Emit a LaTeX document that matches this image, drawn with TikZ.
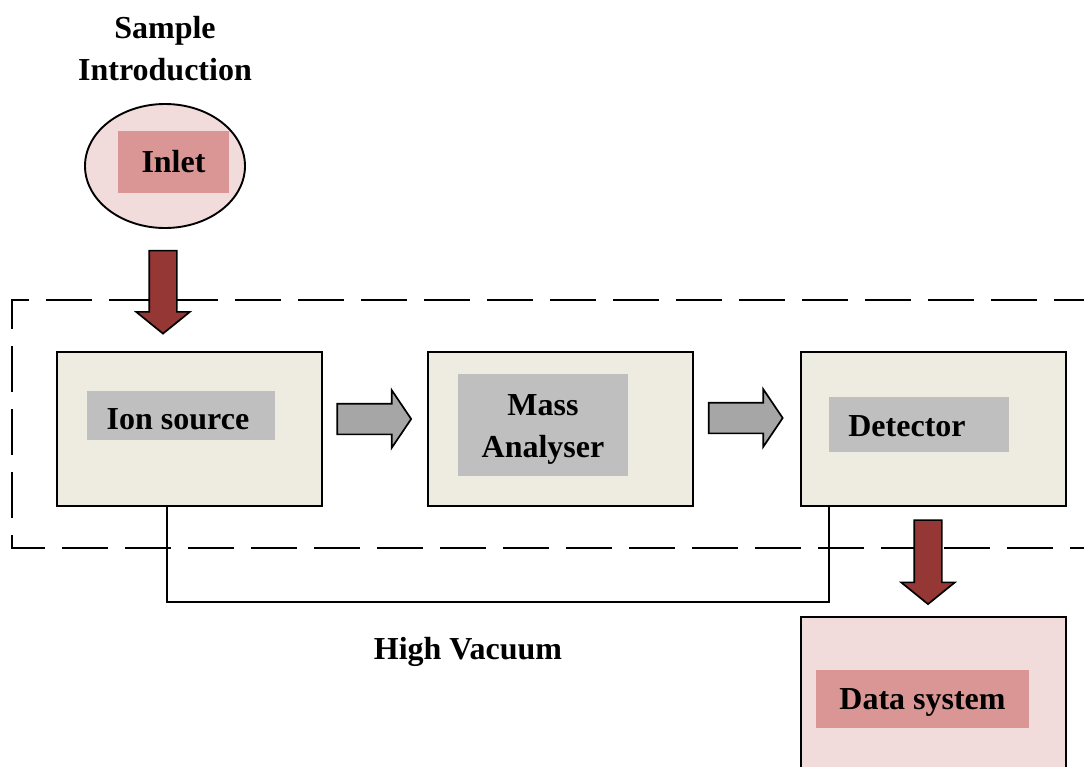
\documentclass[tikz,border=0pt]{standalone}
\usepackage{fontspec}
\setmainfont{Liberation Serif}
\usetikzlibrary{shapes.geometric, shapes.arrows}

\definecolor{boxbeige}{HTML}{EEECE1}
\definecolor{taggray}{HTML}{BFBFBF}
\definecolor{arrowgray}{HTML}{A6A6A6}
\definecolor{arrowred}{HTML}{953735}
\definecolor{pinklight}{HTML}{F2DCDB}
\definecolor{pinkdark}{HTML}{D99694}

\begin{document}
\begin{tikzpicture}[
    x=1pt, y=-1pt,
    stage/.style={
        rectangle,
        draw=black,
        line width=1.9pt,
        fill=boxbeige,
        minimum width=265pt,
        minimum height=154pt,
        inner sep=0pt
    },
    stagetag/.style={
        rectangle,
        fill=taggray,
        inner sep=0pt,
        align=center,
        text depth=0pt,
        text height=21pt,
        font=\fontsize{32}{42}\selectfont\bfseries
    },
    pinktag/.style={
        stagetag,
        fill=pinkdark
    },
    blockred/.style={
        single arrow,
        draw=black,
        line width=1.7pt,
        fill=arrowred,
        inner sep=13pt,
        minimum width=52pt,
        minimum height=83pt,
        single arrow head extend=13pt,
        single arrow head indent=0pt,
        single arrow tip angle=102,
        shape border rotate=270
    },
    blockgray/.style={
        single arrow,
        draw=black,
        line width=1.7pt,
        fill=arrowgray,
        inner sep=14.5pt,
        minimum width=56pt,
        minimum height=74pt,
        single arrow head extend=13.5pt,
        single arrow head indent=0pt,
        single arrow tip angle=112
    },
    wire/.style={
        -,
        line width=1.6pt,
        black
    },
    vacuumline/.style={
        line width=1.8pt,
        dash pattern=on 46pt off 17pt
    },
    caption/.style={
        align=center,
        font=\fontsize{32}{42}\selectfont\bfseries
    }
]
\useasboundingbox (0,0) rectangle (1084,766);

% High vacuum enclosure
\draw[vacuumline] (1100,300) -- (12,300) -- (12,548) -- (1100,548);

% Sample introduction
\node[caption] (sampletxt) at (165,49) {Sample\\Introduction};
\node[ellipse, draw=black, line width=1.9pt, fill=pinklight,
      minimum width=160pt, minimum height=124pt, inner sep=0pt] (inlet) at (165,166) {};
\node[pinktag, minimum width=111pt, minimum height=62pt] (inlettag) at (173.5,162) {Inlet};

% Stages inside the vacuum
\node[stage] (ion) at (189.5,429) {};
\node[stagetag, minimum width=188pt, minimum height=49pt,
      label={[caption, xshift=-3pt, yshift=-4pt]center:Ion source}] (iontag) at (181,415.5) {};

\node[stage] (mass) at (560.5,429) {};
\node[stagetag, minimum width=170pt, minimum height=102pt,
      label={[caption, yshift=-4pt]center:{Mass\\Analyser}}] (masstag) at (543,425) {};

\node[stage] (det) at (933.5,429) {};
\node[stagetag, minimum width=180pt, minimum height=55pt,
      label={[caption, xshift=-12pt, yshift=-1.5pt]center:Detector}] (dettag) at (919,424.5) {};

% Data system
\node[stage, fill=pinklight, minimum height=190pt] (datasys) at (933.5,712) {};
\node[pinktag, minimum width=213pt, minimum height=58pt] (datatag) at (922.5,699) {Data system};

% Block arrows
\node[blockred] (feed) at (163,286.5) {};
\node[blockgray] (ionmass) at (369,419) {};
\node[blockgray] (massdet) at (740.5,418) {};
\node[blockred, minimum height=84pt] (detdata) at (928,556.5) {};

% Pumping line
\draw[wire] ([xshift=-22.5pt]ion.south) -- ++(0,95) -| ([xshift=-104.5pt]det.south);

\node[caption] (vacuumtxt) at (468,652) {High Vacuum};

\end{tikzpicture}
\end{document}
